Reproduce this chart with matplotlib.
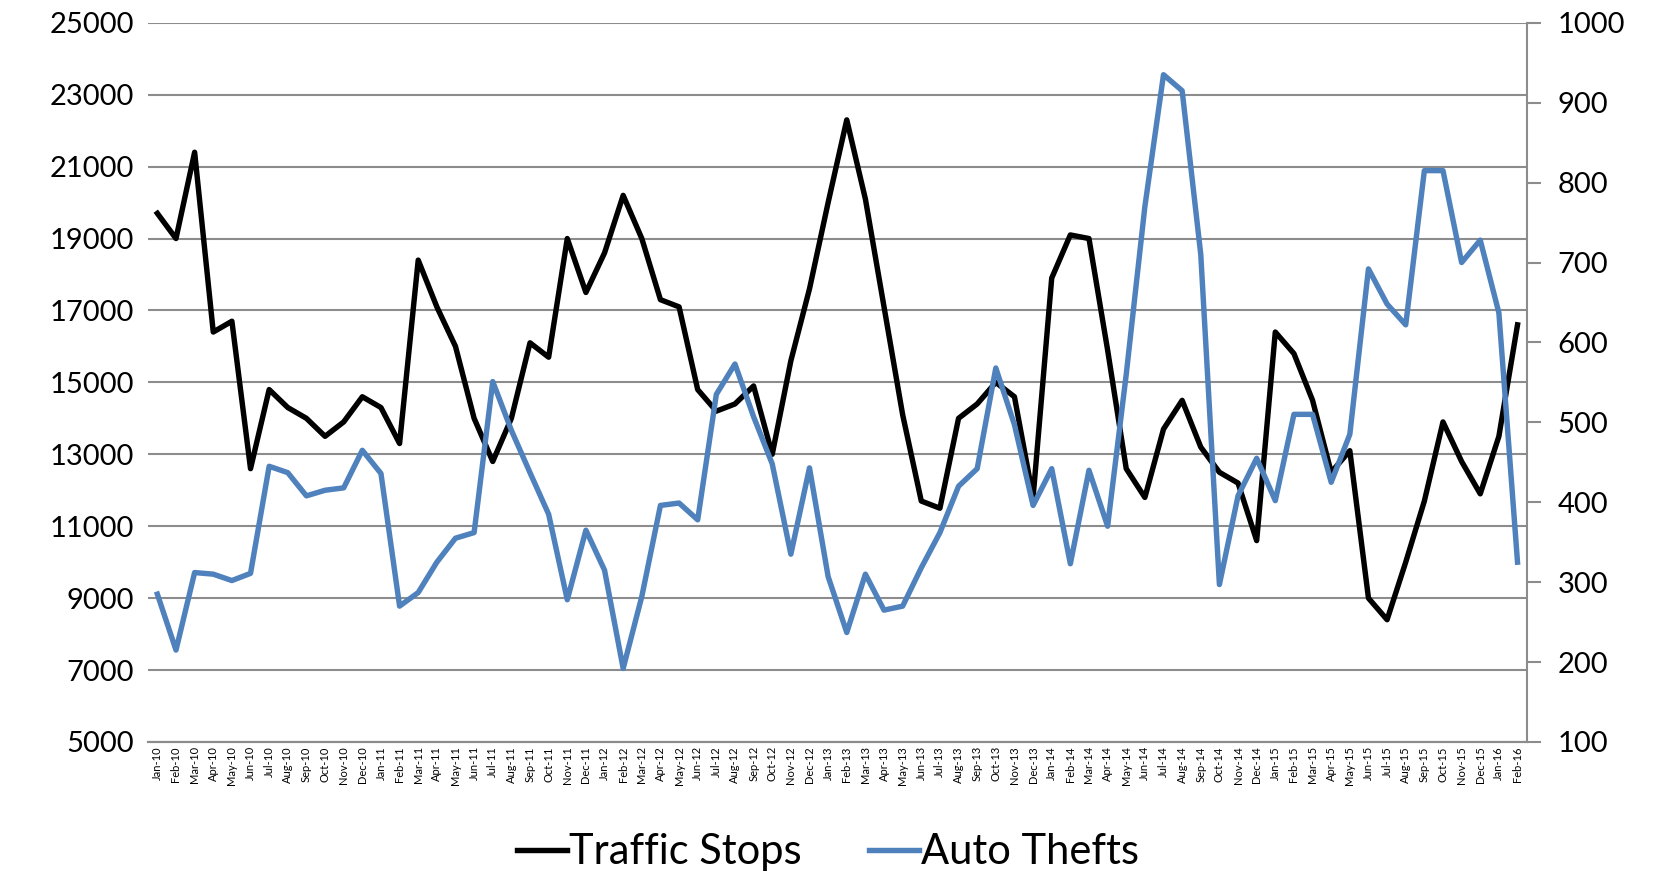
import matplotlib.pyplot as plt

months = ['Jan', 'Feb', 'Mar', 'Apr', 'May', 'Jun',
          'Jul', 'Aug', 'Sep', 'Oct', 'Nov', 'Dec']
labels = [f'{m}-{y}' for y in range(10, 16) for m in months] + ['Jan-16', 'Feb-16']

traffic_stops = [19700, 19000, 21400, 16400, 16700, 12600, 14800, 14300, 14000, 13500, 13900, 14600,
                 14300, 13300, 18400, 17100, 16000, 14000, 12800, 14000, 16100, 15700, 19000, 17500,
                 18600, 20200, 19000, 17300, 17100, 14800, 14200, 14400, 14900, 13000, 15600, 17600,
                 20000, 22300, 20100, 17100, 14100, 11700, 11500, 14000, 14400, 15000, 14600, 11800,
                 17900, 19100, 19000, 15900, 12600, 11800, 13700, 14500, 13200, 12500, 12200, 10600,
                 16400, 15800, 14500, 12500, 13100, 9000, 8400, 10000, 11700, 13900, 12800, 11900,
                 13500, 16600]

auto_thefts = [285, 215, 312, 310, 302, 311, 445, 437, 408, 415, 418, 465,
               436, 270, 287, 325, 355, 362, 551, 490, 437, 385, 278, 365,
               315, 192, 282, 396, 399, 378, 535, 573, 507, 448, 335, 443,
               307, 237, 310, 265, 270, 318, 362, 420, 442, 568, 497, 396,
               442, 323, 440, 370, 560, 770, 935, 915, 710, 297, 408, 455,
               402, 510, 510, 425, 485, 692, 648, 622, 815, 815, 700, 728,
               637, 325]

plt.rcParams['font.family'] = ['Lato', 'DejaVu Sans']

fig = plt.figure(figsize=(16.56, 8.76), dpi=100)
ax = fig.add_axes([0.0894, 0.153, 0.8326, 0.821])
ax2 = ax.twinx()

x = list(range(len(labels)))
l1, = ax.plot(x, traffic_stops, color='black', lw=3.9, label='Traffic Stops', zorder=3)
l2, = ax2.plot(x, auto_thefts, color='#4F81BD', lw=3.9, label='Auto Thefts', zorder=3)

ax.set_xlim(-0.5, len(labels) - 0.5)
ax.set_ylim(5000, 25000)
ax.set_yticks(range(5000, 25001, 2000))
ax.tick_params(axis='y', length=0, labelsize=21, pad=10)
ax.yaxis.grid(True, color='#8c8c8c', lw=1.5)
ax.set_axisbelow(True)

ax.set_xticks(x)
ax.set_xticklabels(labels, rotation=90, fontsize=8)
ax.tick_params(axis='x', length=0, pad=3)

ax2.set_ylim(100, 1000)
ax2.set_yticks(range(100, 1001, 100))
ax2.tick_params(axis='y', length=10, width=1.5, color='#8c8c8c', labelsize=21, pad=12)

for a in (ax, ax2):
    a.spines['top'].set_visible(False)
    a.spines['left'].set_visible(False)
    a.spines['bottom'].set_color('#8c8c8c')
    a.spines['bottom'].set_linewidth(1.5)
ax.spines['right'].set_visible(False)
ax2.spines['right'].set_color('#8c8c8c')
ax2.spines['right'].set_linewidth(1.5)

fig.legend(handles=[l1, l2], loc='center', bbox_to_anchor=(0.5, 0.027),
           ncol=2, frameon=False, fontsize=30, handlelength=1.2,
           handletextpad=0.05, columnspacing=1.6)

fig.savefig('out.png', dpi=100)
